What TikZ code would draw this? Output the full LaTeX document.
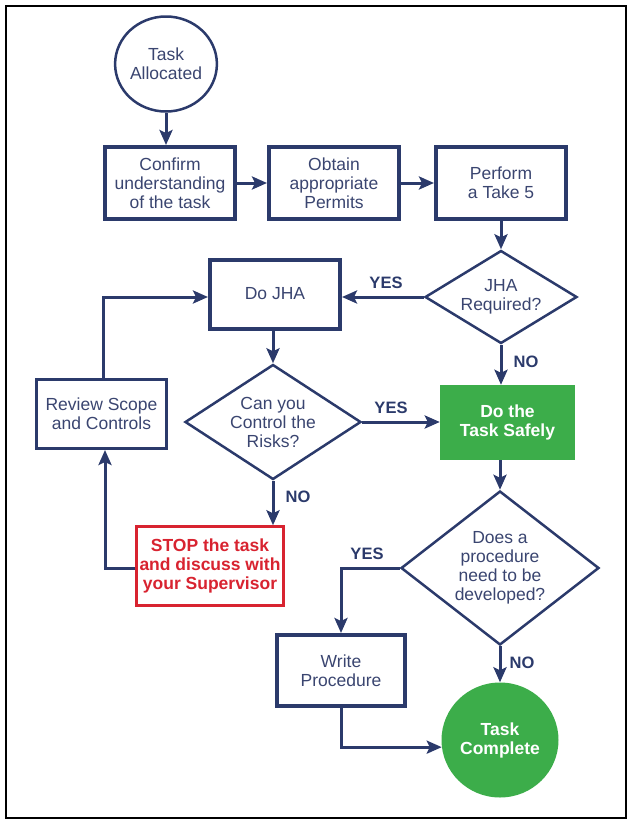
\documentclass[tikz,border=0pt]{standalone}
\usepackage{fontspec}
\setmainfont{Liberation Sans}
\usetikzlibrary{arrows.meta,shapes.geometric}
\definecolor{navy}{HTML}{2B3A6B}
\definecolor{txt}{HTML}{3A4570}
\definecolor{okgreen}{HTML}{3CAD4A}
\definecolor{stopred}{HTML}{D82330}
\tikzset{
  base/.style={inner sep=0pt, align=center, font=\fontsize{17.5}{19}\selectfont, text=txt},
  thickbox/.style={base, draw=navy, line width=4pt, rectangle},
  thinbox/.style={base, draw=navy, line width=3pt, rectangle},
  decision/.style={draw=navy, line width=2.5pt, diamond, inner sep=0pt},
  dtext/.style={base},
  conn/.style={draw=navy, line width=3pt, -{Stealth[length=15pt,width=13pt,inset=3pt]}},
  yn/.style={font=\bfseries\fontsize{16.5}{18}\selectfont, text=navy, inner sep=0pt},
}
\begin{document}
\begin{tikzpicture}[x=1pt,y=-1pt]
\useasboundingbox (0,0) rectangle (630,825);
\draw[black, line width=1.5pt] (6,6) rectangle (626,818);

% nodes
\node[base, draw=navy, line width=2.5pt, ellipse, minimum width=95pt, minimum height=95pt] (alloc) at (166,64) {Task\\Allocated};
\node[thickbox, minimum width=130pt, minimum height=72pt] (confirm) at (170,183) {Confirm\\understanding\\of the task};
\node[thickbox, minimum width=130pt, minimum height=72pt] (obtain) at (334,183) {Obtain\\appropriate\\Permits};
\node[thickbox, minimum width=130pt, minimum height=72pt] (perform) at (501,183) {Perform\\a Take 5};
\node[decision, minimum width=152pt, minimum height=93pt, label={[dtext]center:JHA\\Required?}] (jha) at (501,297) {};
\node[thickbox, minimum width=130pt, minimum height=69pt] (dojha) at (275,294) {Do JHA};
\node[thinbox, minimum width=130pt, minimum height=69pt] (review) at (101.5,414) {Review Scope\\and Controls};
\node[decision, minimum width=176pt, minimum height=115pt, label={[dtext]center:Can you\\Control the\\Risks?}] (canyou) at (273,422) {};
\node[base, fill=okgreen, text=white, font=\bfseries\fontsize{17.5}{19}\selectfont, minimum width=135pt, minimum height=75pt] (safely) at (507.5,422.5) {Do the\\Task Safely};
\node[base, draw=stopred, line width=2.5pt, text=stopred, font=\bfseries\fontsize{17.5}{19}\selectfont, minimum width=147pt, minimum height=79pt] (stop) at (210,566) {STOP the task\\and discuss with\\your Supervisor};
\node[decision, minimum width=198pt, minimum height=154pt, label={[dtext]center:Does a\\procedure\\need to be\\developed?}] (proc) at (500,568) {};
\node[thickbox, minimum width=128pt, minimum height=71pt] (write) at (341,670.5) {Write\\Procedure};
\node[base, ellipse, fill=okgreen, text=white, font=\bfseries\fontsize{17.5}{19}\selectfont, minimum width=117pt, minimum height=115pt] (complete) at (500,740) {Task\\Complete};

% helper coordinates
\coordinate (loopTop) at (103,297);
\coordinate (loopBot) at (105,568);
\coordinate (wcorner) at (341,568);

% connectors
\draw[conn] (alloc.south) -- (alloc.south |- confirm.north);
\draw[conn] (confirm.east) -- (obtain.west);
\draw[conn] (obtain.east) -- (perform.west);
\draw[conn] (perform.south -| jha.north) -- (jha.north);
\draw[conn] (jha.west) -- (jha.west -| dojha.east);
\draw[conn] (review.north -| loopTop) -- (loopTop) -- (loopTop -| dojha.west);
\draw[conn] (dojha.south -| canyou.north) -- (canyou.north);
\draw[conn] (canyou.east) -- (canyou.east -| safely.west);
\draw[conn] (jha.south) -- (jha.south |- safely.north);
\draw[conn] (canyou.south) -- (canyou.south |- stop.north);
\draw[conn] (stop.west |- loopBot) -- (loopBot) -- (loopBot |- review.south);
\draw[conn] (safely.south -| proc.north) -- (proc.north);
\draw[conn] (proc.west) -- (wcorner) -- (write.north);
\draw[conn] (proc.south) -- (complete.north);
\draw[conn] (write.south) |- (complete.187);

% labels
\node[yn] (y1) at (386,283) {YES};
\node[yn] (n1) at (526,362) {NO};
\node[yn] (y2) at (391,408) {YES};
\node[yn] (n2) at (298,497) {NO};
\node[yn] (y3) at (367,554) {YES};
\node[yn] (n3) at (522,663) {NO};
\end{tikzpicture}
\end{document}
